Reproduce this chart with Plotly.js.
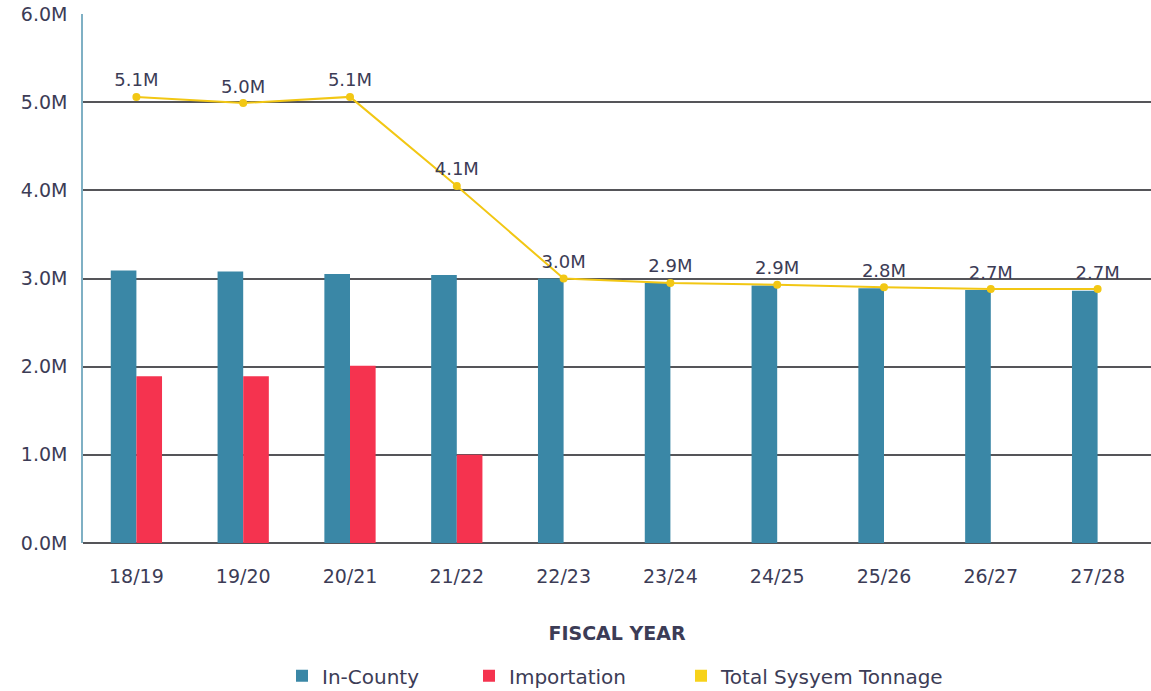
<!DOCTYPE html>
<html>
<head>
<meta charset="utf-8">
<script src="https://cdn.plot.ly/plotly-3.0.1.min.js"></script>
<style>
html,body{margin:0;padding:0;background:#fff;}
#chart{width:1151px;height:691px;}
</style>
</head>
<body>
<div id="chart"></div>
<script>
// Data (values in millions of tons)
var fiscalYears = ["18/19","19/20","20/21","21/22","22/23","23/24","24/25","25/26","26/27","27/28"];
var inCounty    = [3.09, 3.08, 3.05, 3.04, 3.00, 2.95, 2.92, 2.89, 2.87, 2.86];
var importation = [1.89, 1.89, 2.01, 1.00, 0, 0, 0, 0, 0, 0];
var totalTonnage = [5.06, 4.99, 5.06, 4.05, 3.00, 2.95, 2.93, 2.90, 2.88, 2.88];
var totalLabels = ["5.1M","5.0M","5.1M","4.1M","3.0M","2.9M","2.9M","2.8M","2.7M","2.7M"];
var yTickVals = [0,1,2,3,4,5,6];
var yTickLabels = ["0.0M","1.0M","2.0M","3.0M","4.0M","5.0M","6.0M"];

var textColor = "#3c3c56";
var fontFam = "DejaVu Sans, sans-serif";

var traces = [
  {
    type: "bar", name: "In-County", x: fiscalYears, y: inCounty,
    marker: {color: "#3a87a6"}, width: 0.24, offset: -0.24,
    hoverinfo: "y", legend: "legend"
  },
  {
    type: "bar", name: "Importation", x: fiscalYears, y: importation,
    marker: {color: "#f5334f"}, width: 0.24, offset: 0,
    hoverinfo: "y", legend: "legend2"
  },
  {
    type: "scatter", mode: "lines+markers+text", name: "Total Sysyem Tonnage",
    x: fiscalYears, y: totalTonnage, text: totalLabels,
    textposition: "top center",
    textfont: {family: fontFam, size: 18, color: textColor},
    line: {color: "#f2c714", width: 2},
    marker: {color: "#f2c714", size: 8},
    showlegend: false, cliponaxis: false
  },
  {
    type: "bar", name: "Total Sysyem Tonnage", x: [fiscalYears[0]], y: [null],
    marker: {color: "#f7d21a"}, width: 0.24, offset: 0,
    hoverinfo: "skip", legend: "legend3"
  }
];

function legendAt(px) {
  return {
    orientation: "h", xref: "container", x: px / 1151, xanchor: "left",
    yref: "container", y: 0.022, yanchor: "middle",
    font: {family: fontFam, size: 20, color: textColor},
    bgcolor: "rgba(0,0,0,0)"
  };
}

var layout = {
  width: 1151, height: 691,
  margin: {l: 83, r: 0, t: 14, b: 148},
  paper_bgcolor: "#ffffff", plot_bgcolor: "#ffffff",
  barmode: "overlay",
  font: {family: fontFam, color: textColor, size: 18},
  showlegend: true,
  legend: legendAt(282),
  legend2: legendAt(469),
  legend3: legendAt(681),
  xaxis: {
    type: "category",
    range: [-0.5, 9.5],
    automargin: false,
    showgrid: false,
    showline: false,
    zeroline: false,
    ticks: "outside", ticklen: 16, tickcolor: "rgba(0,0,0,0)",
    tickfont: {family: fontFam, size: 19, color: textColor},
    title: {text: "<b>FISCAL YEAR</b>", standoff: 40,
            font: {family: fontFam, size: 19, color: textColor}}
  },
  yaxis: {
    range: [0, 6],
    automargin: false,
    tickmode: "array",
    tickvals: yTickVals,
    ticktext: yTickLabels,
    showgrid: true, gridcolor: "#555559", gridwidth: 1.5,
    zeroline: true, zerolinecolor: "#555559", zerolinewidth: 1.5,
    showline: true, linecolor: "#7fb0c4", linewidth: 1.5,
    ticks: "outside", ticklen: 10, tickcolor: "rgba(0,0,0,0)",
    tickfont: {family: fontFam, size: 19, color: textColor}
  }
};

Plotly.newPlot("chart", traces, layout, {displayModeBar: false, responsive: false});
</script>
</body>
</html>
